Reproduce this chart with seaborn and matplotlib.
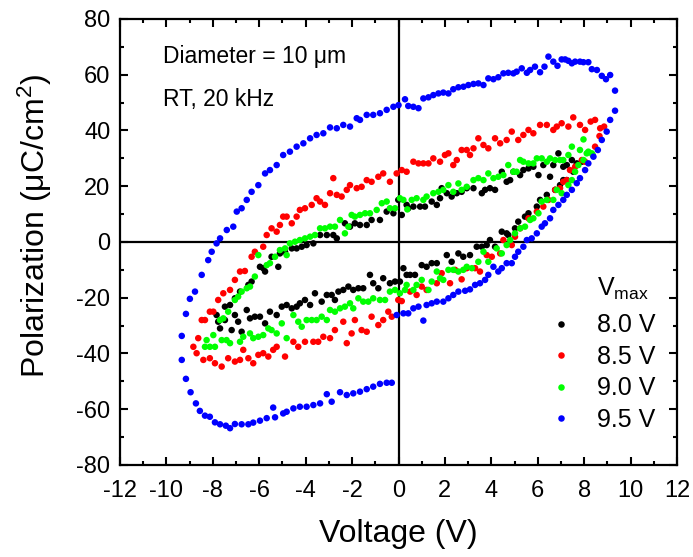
import numpy as np
import pandas as pd
import seaborn as sns
import matplotlib.pyplot as plt
from matplotlib.ticker import MultipleLocator

# P-V hysteresis loops
v_80 = [7.68, 7.47, 7.25, 7.1, 6.89, 6.67, 6.53, 6.24, 6.03, 5.81, 5.6, 5.38, 5.24, 4.95, 4.81, 4.66, 4.45, 4.16,
        3.94, 3.73, 3.59, 3.23, 2.94, 2.72, 2.51, 2.29, 2.08, 1.86, 1.79, 1.65, 1.43, 1.14, 0.93, 0.64, 0.42, 0.35,
        0.14, -0.01, -0.22, -0.51, -0.8, -1.16, -1.37, -1.66, -1.88, -2.09, -2.31, -2.66, -2.81, -3.09, -3.38, -3.67,
        -3.96, -4.17, -4.39, -4.6, -4.89, -5.11, -5.18, -5.47, -5.83, -5.97, -5.75, -6.33, -6.47, -6.83, -7.05, -7.26,
        -7.48, -7.84, -7.77, -7.69,
        -7.48, -7.19, -7.05, -6.91, -6.76, -6.54, -6.4, -6.19, -5.97, -5.75, -5.54, -5.25, -5.03, -4.82, -4.6, -4.39,
        -4.25, -4.03, -3.81, -3.6, -3.31, -3.09, -2.88, -2.74, -2.59, -2.38, -2.16, -1.95, -1.73, -1.52, -1.23, -1.09,
        -0.87, -0.66, -0.37, -0.15, 0.06, 0.21, 0.35, 0.5, 0.71, 1.0, 1.21, 1.43, 1.65, 2.08, 2.29, 2.58, 2.79, 3.08,
        3.37, 3.59, 3.8, 3.94, 4.16, 4.45, 4.66, 4.73, 5.02, 5.16, 5.45, 5.6, 5.96, 6.1, 6.39, 6.75, 6.96, 7.1, 7.25,
        7.53, 7.68, 7.9]
p_80 = [28.2, 29.4, 27.6, 27.0, 31.8, 27.6, 23.4, 27.6, 24.0, 27.0, 26.4, 25.8, 24.0, 25.2, 22.2, 21.6, 25.2, 18.7,
        19.3, 18.7, 17.5, 19.3, 19.3, 18.0, 17.5, 16.3, 17.5, 19.3, 15.7, 13.3, 14.5, 12.7, 12.7, 12.7, 12.1, 13.3,
        9.7, 15.1, 10.3, 10.9, 7.9, 7.9, 6.1, 6.1, 6.7, 5.5, 6.7, 1.3, 2.5, 2.5, 2.5, -0.5,
        -1.1, -1.7, -2.3, -2.3, -3.5, -4.1, -8.9, -5.3, -9.4, -8.9, -10.6, -14.2, -15.4, -17.8, -20.2, -22.6,
        -23.2, -26.2, -28.6, -31.0,
        -28.0, -31.6, -26.2, -28.6, -32.2, -24.4, -27.4, -26.8, -26.8, -29.2, -25.0, -26.2, -23.2, -22.6, -23.8, -23.2,
        -22.0, -20.8, -22.6, -18.4, -21.4, -19.0, -19.0, -20.8, -17.8, -17.2, -16.0, -17.2, -16.6, -16.6, -11.8, -14.8,
        -16.6, -13.0, -14.8, -14.2, -14.2, -9.4, -11.8, -11.8, -11.8, -8.3, -8.9, -7.6, -7.6, -4.7, -7.1, -4.1, -5.3, -4.7,
        -1.7, -1.7, -1.1, 0.7, -1.7, 3.7, 3.1, 2.5, 4.9, 7.3, 9.1, 10.3, 12.7, 15.1, 16.9, 18.7, 20.4, 22.2, 22.2,
        25.2, 27.6, 28.8]

v_85 = [8.86, 8.47, 8.28, 8.04, 7.82, 7.53, 7.32, 7.03, 6.82, 6.67, 6.39, 6.1, 5.81, 5.6, 5.38, 5.16, 4.88, 4.66,
        4.38, 4.16, 3.87, 3.66, 3.44, 3.23, 3.08, 2.94, 2.72, 2.51, 2.36, 2.15, 2.0, 1.79, 1.5, 1.29, 1.07, 0.86, 0.64,
        0.35, 0.14, -0.08, -0.37, -0.66, -0.87, -1.16, -1.37, -1.59, -1.8, -2.09, -2.23, -2.45, -2.66, -2.81, -2.95,
        -3.17, -3.38, -3.53, -3.74, -4.03, -4.25, -4.39, -4.6, -4.82, -4.97, -5.11, -5.25, -5.47, -5.68, -5.83, -6.19,
        -6.33, -6.62, -6.83, -7.05, -7.26, -7.55, -7.77, -7.98, -8.13, -8.34, -8.48, -8.63, -8.84, -8.7,
        -8.41, -8.13, -7.91, -7.62, -7.34, -7.05, -6.83, -6.69, -6.47, -6.26, -6.04, -5.83, -5.61, -5.4, -5.25, -4.89,
        -4.53, -4.32, -4.03, -3.67, -3.46, -3.24, -2.95, -2.74, -2.38, -2.23, -2.02, -1.88, -1.59, -1.37, -1.16, -0.87,
        -0.66, -0.44, -0.29, -0.01, 0.14, 0.5, 0.78, 1.0, 1.21, 1.65, 1.86, 2.22, 2.44, 2.72, 2.94, 3.3, 3.51, 3.8,
        4.02, 4.38, 4.52, 4.88, 5.02, 5.24, 5.6, 5.96, 6.24, 6.46, 6.75, 6.96, 7.1, 7.25, 7.39, 7.61, 7.9, 8.04, 8.47,
        8.66, 8.69]
p_85 = [41.4, 43.8, 43.2, 40.2, 42.0, 44.7, 41.4, 42.6, 41.4, 40.2, 42.0, 42.0, 39.0, 40.2, 38.4, 36.6, 39.6, 36.6,
        35.4, 37.2, 33.6, 34.8, 37.2, 33.6, 31.2, 33.0, 33.0, 29.4, 27.6, 31.8, 31.2, 28.8, 30.0, 28.2, 28.2, 28.2, 28.8,
        25.2, 25.8, 24.6, 21.6, 24.6, 23.4, 21.6, 22.2, 19.8, 19.3, 20.4, 18.7, 16.3, 16.9, 22.9, 17.5,
        13.3, 14.5, 15.7, 13.3, 12.1, 11.5, 9.1, 6.7, 9.1, 9.1, 6.1, 3.7, 4.9, 2.5, -1.7, -3.5,
        -5.3, -10.4, -10.6, -13.6, -17.2, -18.4, -20.8, -25.0, -25.0, -28.0, -28.0, -34.5, -37.6, -39.9,
        -42.3, -41.7, -43.5, -44.7, -41.7, -42.9, -42.3, -38.7, -41.7, -43.5, -40.5, -39.9, -41.1, -38.7, -37.6, -41.1,
        -35.8, -37.6, -35.8, -35.8, -35.8, -34.0, -34.5, -31.6, -28.6, -36.3, -32.8, -28.0, -31.6, -32.2, -26.8, -29.8,
        -28.0, -25.0, -26.8, -20.8, -21.2, -17.8, -19.0, -16.0, -17.2, -14.8, -11.2, -14.8, -10.0, -13.4, -9.4, -9.4, -10.6, -4.7,
        -5.3, -4.1, 0.7, -1.1, 1.9, 4.9, 8.5, 10.9, 12.7, 15.1, 18.7, 19.3, 21.6, 22.2, 25.8, 27.0, 29.4, 28.8, 34.2,
        38.0, 40.8]

v_90 = [8.37, 8.18, 7.97, 7.82, 7.47, 7.32, 7.1, 6.96, 6.75, 6.53, 6.39, 6.17, 5.96, 5.81, 5.6, 5.38, 5.24, 5.09,
        4.95, 4.73, 4.52, 4.3, 4.09, 3.87, 3.66, 3.44, 3.23, 2.94, 2.72, 2.58, 2.36, 2.15, 1.93, 1.72, 1.5, 1.21, 1.07,
        0.78, 0.57, 0.38, 0.21, 0.06, -0.15, -0.37, -0.51, -0.72, -0.94, -1.23, -1.44, -1.66, -1.88, -2.02, -2.16,
        -2.31, -2.52, -2.74, -2.95, -3.17, -3.38, -3.6, -3.81, -4.03, -4.25, -4.46, -4.68, -4.89, -5.11, -4.82, -5.32,
        -5.54, -5.68, -6.04, -6.19, -6.4, -6.54, -6.76, -6.91, -7.05, -7.34, -7.55, -7.69, -7.98, -8.27, -8.34,
        -8.13, -7.91, -7.62, -7.41, -7.26, -6.83, -6.69, -6.4, -6.26, -6.04, -5.83, -5.61, -5.47, -5.25, -5.03, -4.82,
        -4.53, -4.32, -4.17, -3.96, -3.74, -3.53, -3.31, -3.09, -2.95, -2.74, -2.52, -2.31, -2.09, -1.95, -1.73, -1.52,
        -1.3, -1.09, -0.8, -0.58, -0.37, -0.15, 0.06, 0.28, 0.35, 0.64, 0.78, 1.0, 1.29, 1.43, 1.65, 1.79, 1.93, 2.15,
        2.36, 2.58, 2.79, 2.94, 3.16, 3.44, 3.66, 3.87, 4.23, 4.45, 4.66, 4.81, 5.02, 5.24, 5.45, 5.67, 5.81, 6.03,
        6.17, 6.39, 6.67, 6.82, 7.03, 7.32, 7.47, 7.61, 7.75, 7.97, 8.11, 8.33]
p_90 = [31.2, 32.4, 36.8, 33.0, 34.2, 31.2, 29.4, 29.4, 29.4, 30.0, 28.8, 30.0, 30.0, 28.2, 28.2, 28.8, 29.4, 25.2,
        25.2, 27.6, 24.0, 23.4, 22.9, 24.6, 22.2, 22.9, 22.2, 19.8, 18.7, 21.0, 18.0, 20.4, 18.7, 18.0, 17.5, 16.3, 15.1,
        15.7, 15.1, 11.7, 15.1, 15.7, 12.1, 12.1, 14.5, 13.9, 11.5, 10.3, 10.3, 9.7, 9.1, 9.7, 5.5,
        3.1, 7.9, 5.5, 5.5, 4.9, 4.9, 2.5, 1.9, 1.3, 0.7, 0.1, -0.5, -2.3, -2.9, -4.7, -5.3,
        -7.6, -8.3, -4.7, -12.4, -16.0, -16.6, -17.8, -19.6, -20.8, -25.0, -27.4, -28.0, -33.4, -35.2, -37.6,
        -37.6, -37.6, -35.2, -35.2, -36.3, -35.8, -34.0, -32.8, -34.5, -34.0, -33.4, -31.0, -31.6, -32.8, -29.2, -34.5,
        -26.2, -28.6, -30.4, -28.0, -28.0, -28.0, -26.8, -28.0, -24.4, -25.0, -23.8, -23.2, -22.0, -23.8, -20.2, -21.4,
        -21.4, -20.2, -20.8, -20.8, -17.8, -17.2, -18.4, -17.2, -15.4, -17.2, -15.4, -13.6, -17.2, -14.2, -10.6, -13.0, -13.6, -10.0,
        -10.0, -10.6, -10.0, -8.9, -9.4, -7.1, -3.5, -7.1, -2.3, -4.1, -1.1, 0.7, 3.1, 4.9, 5.5, 7.9, 8.5, 10.3,
        14.5, 15.1, 15.1, 18.7, 17.5, 20.4, 22.2, 25.2, 27.6, 29.4, 31.8, 31.8]

v_95 = [-0.08, 0.21, 0.42, 0.64, 0.86, 1.07, 1.21, 1.43, 1.65, 1.93, 2.15, 2.36, 2.58, 2.87, 3.08, 3.3, 3.51, 3.73,
        3.87, 4.09, 4.3, 4.45, 4.66, 4.88, 5.02, 5.16, 5.38, 5.53, 5.74, 5.96, 6.17, 6.31, 6.53, 6.67, 6.89, 7.1, 7.25,
        7.47, 7.68, 7.82, 8.04, 8.18, 8.4, 8.59, 8.76, 8.97, 9.12, 9.33, 9.33,
        9.12, 8.94, 8.76, 8.55, 8.33, 8.18, 7.97, 7.82, 7.61, 7.47, 7.32, 7.18, 7.03, 6.85, 6.67, 6.46, 6.29, 6.1, 5.88,
        5.67, 5.53, 5.31, 5.09, 4.95, 4.73, 4.52, 4.3, 4.09, 3.87, 3.66, 3.44, 3.23, 3.01, 2.8, 2.58, 2.36, 2.15, 1.93,
        1.72, 1.5, 1.29, 1.07, 0.86, 0.64, 0.42, 0.28, 0.0, -0.22, -0.51, -0.8, -1.09, -1.37, -1.66, -1.8, -2.09, -2.38,
        -2.66, -2.95, -3.24, -3.53, -3.81, -4.1, -4.39, -4.68, -4.97, -5.25, -5.54, -5.75, -6.04, -6.33, -6.54, -6.76,
        -6.97, -7.12, -7.4, -7.69, -7.84, -8.05, -8.2, -8.48, -8.77, -8.99, -9.16, -9.34, -9.34, -9.16, -8.96, -8.73,
        -8.56, -8.34, -8.13, -7.91, -7.69, -7.44, -7.26, -7.05, -6.76, -6.47, -6.26, -5.97, -5.68, -5.4, -5.32, -4.97,
        -4.82, -4.53, -4.25, -3.96, -3.67, -3.38, -3.09, -2.88, -2.52, -2.23, -1.95, -1.66, -1.37, -1.09, -0.8, -0.51,
        -0.29]
p_95 = [-26.2, -25.6, -25.6, -23.8, -23.2, -28.2, -22.6, -22.0, -21.4, -21.4, -20.2, -19.0, -17.8, -17.5, -17.0, -15.4,
        -14.8, -13.6, -11.8, -8.9, -10.6, -9.4, -7.6, -7.6, -5.3, -3.5, -1.7, 0.7, 1.3, 3.1, 5.5, 6.7, 8.5, 11.5, 13.3,
        15.1, 16.9, 18.7, 21.1, 22.9, 25.8, 28.2, 30.6, 33.0, 36.6, 39.6, 43.8, 47.1, 54.3,
        59.9, 58.4, 59.6, 61.7, 62.0, 64.5, 64.5, 64.7, 64.7, 64.1, 65.0, 65.5, 65.5, 63.2, 64.7, 66.5, 62.9, 60.9, 62.9,
        61.7, 60.7, 62.3, 61.1, 60.5, 60.7, 60.5, 59.1, 58.4, 58.7, 56.3, 56.9, 56.7, 56.3, 55.7, 55.5, 54.8, 53.3, 53.6,
        53.3, 52.7, 51.9, 51.5, 48.0, 48.5, 48.8, 51.2, 49.1, 48.5, 47.4, 46.2, 45.6, 45.6, 43.8, 44.4, 41.4, 42.0,
        40.8, 41.1, 39.0, 38.4, 37.2, 35.4, 34.2, 32.4, 31.2, 27.6, 25.8, 24.6, 20.4, 18.0, 15.1, 12.1,
        10.9, 5.5, 4.3, 1.3, -0.5, -3.5, -6.5, -11.8, -17.8, -20.4, -25.8, -33.7, -42.3, -49.1, -53.9, -57.9,
        -60.6, -62.3, -62.7, -64.7, -65.4, -65.9, -66.8, -65.3, -65.4, -65.4, -64.8, -64.1, -63.2, -59.4, -62.9, -61.5,
        -60.9, -59.7, -59.1, -59.1, -58.5, -57.9, -54.6, -57.3, -53.9, -54.9, -54.3, -53.7, -52.8, -51.9, -50.9, -50.5,
        -50.5]

labels = ["8.0 V", "8.5 V", "9.0 V", "9.5 V"]
colors = ["black", "#ff0000", "#00ff00", "#0000ff"]

frames = []
for lab, v, p in zip(labels, [v_80, v_85, v_90, v_95], [p_80, p_85, p_90, p_95]):
    frames.append(pd.DataFrame({"Voltage": v, "Polarization": p, "Vmax": lab}))
df = pd.concat(frames, ignore_index=True)

sns.set_style("ticks")
plt.rcParams['font.family'] = ['Liberation Sans', 'DejaVu Sans']
plt.rcParams['mathtext.default'] = 'regular'
plt.rcParams['axes.unicode_minus'] = False
plt.rcParams['text.color'] = 'black'
plt.rcParams['axes.labelcolor'] = 'black'
plt.rcParams['axes.edgecolor'] = 'black'
plt.rcParams['xtick.color'] = 'black'
plt.rcParams['ytick.color'] = 'black'

fig = plt.figure(figsize=(6.93, 5.57), dpi=100)
ax = fig.add_axes([0.1732, 0.1652, 0.8037, 0.8007])

ax.axhline(0, color="black", lw=1.6, zorder=1)
ax.axvline(0, color="black", lw=1.6, zorder=1)

sns.scatterplot(data=df, x="Voltage", y="Polarization", hue="Vmax", hue_order=labels,
                palette=dict(zip(labels, colors)), s=22, linewidth=0, ax=ax, zorder=3)

ax.set_xlim(-12, 12)
ax.set_ylim(-80, 80)
ax.xaxis.set_major_locator(MultipleLocator(2))
ax.xaxis.set_minor_locator(MultipleLocator(1))
ax.yaxis.set_major_locator(MultipleLocator(20))
ax.yaxis.set_minor_locator(MultipleLocator(10))
ax.tick_params(which="both", direction="in", top=True, right=True, width=1.5, labelsize=17)
ax.tick_params(which="major", length=6)
ax.tick_params(which="minor", length=3)
ax.tick_params(axis="x", which="major", pad=11)
ax.tick_params(axis="y", which="major", pad=7)
for sp in ax.spines.values():
    sp.set_linewidth(1.6)

ax.set_xlabel("Voltage (V)", fontsize=23, labelpad=12)
ax.set_ylabel("Polarization (\u03bcC/cm$^{2}$)", fontsize=23)
ax.yaxis.set_label_coords(-0.118, 0.536)

ax.text(0.0775, 0.9013, "Diameter = 10 \u03bcm", transform=ax.transAxes, fontsize=16.5, va="baseline")
ax.text(0.0775, 0.8049, "RT, 20 kHz", transform=ax.transAxes, fontsize=16.5, va="baseline")

handles, labs = ax.get_legend_handles_labels()
ax.legend(handles, labs, frameon=False, fontsize=18, loc="upper left", bbox_to_anchor=(0.774, 0.34),
          borderpad=0, borderaxespad=0, handlelength=0.8, handletextpad=1.04, labelspacing=0.3)
ax.text(0.856, 0.38, "V$_{max}$", transform=ax.transAxes, fontsize=18, va="baseline")

plt.savefig("out.png", dpi=100)
